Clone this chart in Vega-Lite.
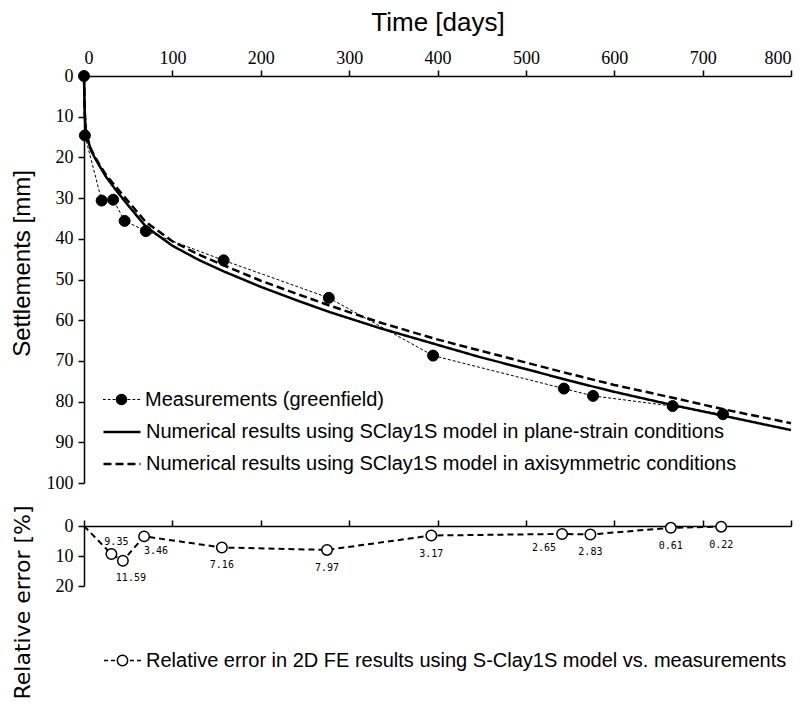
{
  "$schema": "https://vega.github.io/schema/vega-lite/v6.json",
  "padding": {"left": 10, "top": 9, "right": 2, "bottom": 2},
  "background": "white",
  "config": {
    "view": {"stroke": null},
    "axis": {"domainColor": "black", "tickColor": "black", "labelColor": "black", "titleColor": "black", "domainWidth": 1.5, "tickWidth": 1.5, "grid": false, "labelFont": "Liberation Serif", "labelFontSize": 18, "titleFontWeight": "normal"},
    "legend": {"labelFont": "Liberation Sans", "labelFontSize": 20, "labelColor": "black", "labelLimit": 800, "symbolSize": 1369, "labelOffset": 4}
  },
  "resolve": {"scale": {"strokeDash": "independent", "stroke": "independent"}, "legend": {"strokeDash": "independent", "stroke": "independent"}},
  "datasets": {
    "settle": [
      {"series": "Measurements (greenfield)", "day": 0, "s": 0},
      {"series": "Measurements (greenfield)", "day": 1, "s": 14.6},
      {"series": "Measurements (greenfield)", "day": 20, "s": 30.6},
      {"series": "Measurements (greenfield)", "day": 33, "s": 30.4},
      {"series": "Measurements (greenfield)", "day": 46, "s": 35.6},
      {"series": "Measurements (greenfield)", "day": 70, "s": 38.1},
      {"series": "Measurements (greenfield)", "day": 158, "s": 45.3},
      {"series": "Measurements (greenfield)", "day": 277, "s": 54.5},
      {"series": "Measurements (greenfield)", "day": 395, "s": 68.7},
      {"series": "Measurements (greenfield)", "day": 543, "s": 76.8},
      {"series": "Measurements (greenfield)", "day": 576, "s": 78.6},
      {"series": "Measurements (greenfield)", "day": 666, "s": 81.1},
      {"series": "Measurements (greenfield)", "day": 723, "s": 83.1},
      {"series": "Numerical results using SClay1S model in plane-strain conditions", "day": 0, "s": 0},
      {"series": "Numerical results using SClay1S model in plane-strain conditions", "day": 0.5, "s": 6},
      {"series": "Numerical results using SClay1S model in plane-strain conditions", "day": 1, "s": 10},
      {"series": "Numerical results using SClay1S model in plane-strain conditions", "day": 2, "s": 13.3},
      {"series": "Numerical results using SClay1S model in plane-strain conditions", "day": 4, "s": 15.5},
      {"series": "Numerical results using SClay1S model in plane-strain conditions", "day": 8, "s": 18.3},
      {"series": "Numerical results using SClay1S model in plane-strain conditions", "day": 12, "s": 20},
      {"series": "Numerical results using SClay1S model in plane-strain conditions", "day": 17, "s": 21.9},
      {"series": "Numerical results using SClay1S model in plane-strain conditions", "day": 25, "s": 24.8},
      {"series": "Numerical results using SClay1S model in plane-strain conditions", "day": 36, "s": 28},
      {"series": "Numerical results using SClay1S model in plane-strain conditions", "day": 50, "s": 31.8},
      {"series": "Numerical results using SClay1S model in plane-strain conditions", "day": 70, "s": 37},
      {"series": "Numerical results using SClay1S model in plane-strain conditions", "day": 100, "s": 41.7},
      {"series": "Numerical results using SClay1S model in plane-strain conditions", "day": 130, "s": 45.2},
      {"series": "Numerical results using SClay1S model in plane-strain conditions", "day": 158, "s": 48},
      {"series": "Numerical results using SClay1S model in plane-strain conditions", "day": 200, "s": 51.8},
      {"series": "Numerical results using SClay1S model in plane-strain conditions", "day": 243, "s": 55.3},
      {"series": "Numerical results using SClay1S model in plane-strain conditions", "day": 278, "s": 58},
      {"series": "Numerical results using SClay1S model in plane-strain conditions", "day": 334, "s": 61.9},
      {"series": "Numerical results using SClay1S model in plane-strain conditions", "day": 396, "s": 65.8},
      {"series": "Numerical results using SClay1S model in plane-strain conditions", "day": 447, "s": 69},
      {"series": "Numerical results using SClay1S model in plane-strain conditions", "day": 500, "s": 72},
      {"series": "Numerical results using SClay1S model in plane-strain conditions", "day": 550, "s": 74.9},
      {"series": "Numerical results using SClay1S model in plane-strain conditions", "day": 600, "s": 77.6},
      {"series": "Numerical results using SClay1S model in plane-strain conditions", "day": 665, "s": 80.8},
      {"series": "Numerical results using SClay1S model in plane-strain conditions", "day": 724, "s": 83.5},
      {"series": "Numerical results using SClay1S model in plane-strain conditions", "day": 800, "s": 87},
      {"series": "Numerical results using SClay1S model in axisymmetric conditions", "day": 0, "s": 0},
      {"series": "Numerical results using SClay1S model in axisymmetric conditions", "day": 0.5, "s": 5.5},
      {"series": "Numerical results using SClay1S model in axisymmetric conditions", "day": 1, "s": 9.5},
      {"series": "Numerical results using SClay1S model in axisymmetric conditions", "day": 2, "s": 13},
      {"series": "Numerical results using SClay1S model in axisymmetric conditions", "day": 4, "s": 15.3},
      {"series": "Numerical results using SClay1S model in axisymmetric conditions", "day": 8, "s": 18},
      {"series": "Numerical results using SClay1S model in axisymmetric conditions", "day": 12, "s": 19.7},
      {"series": "Numerical results using SClay1S model in axisymmetric conditions", "day": 17, "s": 21.6},
      {"series": "Numerical results using SClay1S model in axisymmetric conditions", "day": 25, "s": 24.3},
      {"series": "Numerical results using SClay1S model in axisymmetric conditions", "day": 36, "s": 27.2},
      {"series": "Numerical results using SClay1S model in axisymmetric conditions", "day": 50, "s": 30.8},
      {"series": "Numerical results using SClay1S model in axisymmetric conditions", "day": 70, "s": 35.9},
      {"series": "Numerical results using SClay1S model in axisymmetric conditions", "day": 100, "s": 40.6},
      {"series": "Numerical results using SClay1S model in axisymmetric conditions", "day": 130, "s": 43.9},
      {"series": "Numerical results using SClay1S model in axisymmetric conditions", "day": 158, "s": 46.5},
      {"series": "Numerical results using SClay1S model in axisymmetric conditions", "day": 200, "s": 50.3},
      {"series": "Numerical results using SClay1S model in axisymmetric conditions", "day": 243, "s": 53.7},
      {"series": "Numerical results using SClay1S model in axisymmetric conditions", "day": 278, "s": 56.4},
      {"series": "Numerical results using SClay1S model in axisymmetric conditions", "day": 334, "s": 60.5},
      {"series": "Numerical results using SClay1S model in axisymmetric conditions", "day": 396, "s": 64.5},
      {"series": "Numerical results using SClay1S model in axisymmetric conditions", "day": 447, "s": 67.4},
      {"series": "Numerical results using SClay1S model in axisymmetric conditions", "day": 500, "s": 70.4},
      {"series": "Numerical results using SClay1S model in axisymmetric conditions", "day": 550, "s": 73.2},
      {"series": "Numerical results using SClay1S model in axisymmetric conditions", "day": 600, "s": 75.9},
      {"series": "Numerical results using SClay1S model in axisymmetric conditions", "day": 665, "s": 79},
      {"series": "Numerical results using SClay1S model in axisymmetric conditions", "day": 724, "s": 81.9},
      {"series": "Numerical results using SClay1S model in axisymmetric conditions", "day": 800, "s": 85.3}
    ],
    "err": [
      {"series": "Relative error in 2D FE results using S-Clay1S model vs. measurements", "day": 0, "e": 0},
      {"series": "Relative error in 2D FE results using S-Clay1S model vs. measurements", "day": 31, "e": 9.35},
      {"series": "Relative error in 2D FE results using S-Clay1S model vs. measurements", "day": 44, "e": 11.59},
      {"series": "Relative error in 2D FE results using S-Clay1S model vs. measurements", "day": 68, "e": 3.46},
      {"series": "Relative error in 2D FE results using S-Clay1S model vs. measurements", "day": 156, "e": 7.16},
      {"series": "Relative error in 2D FE results using S-Clay1S model vs. measurements", "day": 275, "e": 7.97},
      {"series": "Relative error in 2D FE results using S-Clay1S model vs. measurements", "day": 393, "e": 3.17},
      {"series": "Relative error in 2D FE results using S-Clay1S model vs. measurements", "day": 541, "e": 2.65},
      {"series": "Relative error in 2D FE results using S-Clay1S model vs. measurements", "day": 573, "e": 2.83},
      {"series": "Relative error in 2D FE results using S-Clay1S model vs. measurements", "day": 664, "e": 0.61},
      {"series": "Relative error in 2D FE results using S-Clay1S model vs. measurements", "day": 721, "e": 0.22}
    ]
  },
  "vconcat": [
    {
      "width": 707,
      "height": 407,
      "data": {"name": "settle"},
      "encoding": {
        "x": {"field": "day", "type": "quantitative", "scale": {"domain": [0, 800], "nice": false, "zero": false},
          "axis": {"orient": "top", "values": [0, 100, 200, 300, 400, 500, 600, 700, 800], "tickSize": 6, "labelPadding": 3, "title": "Time [days]", "titleFont": "Liberation Sans", "titleFontSize": 26, "titlePadding": 14}},
        "y": {"field": "s", "type": "quantitative", "scale": {"domain": [0, 100], "reverse": true, "nice": false},
          "axis": {"orient": "left", "values": [0, 10, 20, 30, 40, 50, 60, 70, 80, 90, 100], "tickSize": 6, "labelPadding": 5, "title": "Settlements [mm]", "titleFont": "Liberation Sans", "titleFontSize": 24, "titlePadding": 10, "titleY": 187, "minExtent": 40, "maxExtent": 40}}
      },
      "layer": [
        {
          "transform": [{"filter": "datum.series === 'Measurements (greenfield)'"}],
          "mark": {"type": "line", "color": "black", "strokeWidth": 1, "strokeDash": [3, 2]}
        },
        {
          "transform": [{"filter": "datum.series !== 'Measurements (greenfield)'"}],
          "mark": {"type": "line", "color": "black", "strokeWidth": 2.5},
          "encoding": {
            "strokeDash": {"field": "series", "type": "nominal",
              "scale": {"domain": ["Numerical results using SClay1S model in plane-strain conditions", "Numerical results using SClay1S model in axisymmetric conditions"], "range": [[1, 0], [8, 4]]},
              "legend": {"title": null, "orient": "none", "legendX": 18, "legendY": 336, "symbolType": "stroke", "symbolStrokeWidth": 2.5, "symbolStrokeColor": "black", "rowPadding": 2}}
          }
        },
        {
          "transform": [{"filter": "datum.series === 'Measurements (greenfield)'"}],
          "mark": {"type": "point", "filled": true, "fill": "black", "strokeWidth": 1, "size": 121, "opacity": 1},
          "encoding": {
            "stroke": {"field": "series", "type": "nominal", "scale": {"domain": ["Measurements (greenfield)"], "range": ["black"]},
              "legend": {"title": null, "orient": "none", "legendX": 18, "legendY": 304, "symbolType": "M-1,0H-0.85M-0.74,0H-0.59M-0.48,0H-0.33M0.33,0H0.48M0.59,0H0.74M0.85,0H1M-0.28,0A0.28,0.28,0,1,1,0.28,0A0.28,0.28,0,1,1,-0.28,0Z", "symbolStrokeWidth": 1.2, "symbolFillColor": "black"}}
          }
        }
      ]
    },
    {
      "width": 707,
      "height": 60,
      "data": {"name": "err"},
      "encoding": {
        "x": {"field": "day", "type": "quantitative", "scale": {"domain": [0, 800], "nice": false, "zero": false},
          "axis": {"orient": "top", "values": [0, 100, 200, 300, 400, 500, 600, 700, 800], "tickSize": 6, "labels": false, "title": null}},
        "y": {"field": "e", "type": "quantitative", "scale": {"domain": [0, 20], "reverse": true, "nice": false},
          "axis": {"orient": "left", "values": [0, 10, 20], "tickSize": 6, "labelPadding": 5, "title": "Relative error [%]", "titleFont": "DejaVu Sans", "titleFontSize": 22, "titlePadding": 10, "titleY": 76, "minExtent": 40, "maxExtent": 40}}
      },
      "layer": [
        {
          "mark": {"type": "line", "color": "black", "strokeWidth": 2, "strokeDash": [6, 4]}
        },
        {
          "transform": [{"filter": "datum.day > 0"}],
          "mark": {"type": "point", "filled": true, "fill": "white", "strokeWidth": 1.5, "size": 110, "opacity": 1},
          "encoding": {
            "stroke": {"field": "series", "type": "nominal", "scale": {"domain": ["Relative error in 2D FE results using S-Clay1S model vs. measurements"], "range": ["black"]},
              "legend": {"title": null, "orient": "none", "legendX": 19, "legendY": 115, "symbolType": "M-1,0H-0.78M-0.62,0H-0.4M0.4,0H0.62M0.78,0H1M-0.28,0A0.28,0.28,0,1,1,0.28,0A0.28,0.28,0,1,1,-0.28,0Z", "symbolStrokeWidth": 1.5, "symbolFillColor": "white"}}
          }
        },
        {
          "transform": [{"filter": "datum.day > 0 && datum.e !== 9.35 && datum.e !== 11.59 && datum.e !== 3.46 && datum.e !== 2.65"}],
          "mark": {"type": "text", "font": "DejaVu Sans Mono", "fontSize": 10, "color": "black", "dy": 18},
          "encoding": {"text": {"field": "e", "type": "quantitative", "format": ".2f"}}
        },
        {
          "transform": [{"filter": "datum.e === 9.35"}],
          "mark": {"type": "text", "font": "DejaVu Sans Mono", "fontSize": 10, "color": "black", "dx": 5, "dy": -12},
          "encoding": {"text": {"field": "e", "type": "quantitative", "format": ".2f"}}
        },
        {
          "transform": [{"filter": "datum.e === 11.59"}],
          "mark": {"type": "text", "font": "DejaVu Sans Mono", "fontSize": 10, "color": "black", "dx": 8, "dy": 17},
          "encoding": {"text": {"field": "e", "type": "quantitative", "format": ".2f"}}
        },
        {
          "transform": [{"filter": "datum.e === 3.46"}],
          "mark": {"type": "text", "font": "DejaVu Sans Mono", "fontSize": 10, "color": "black", "dx": 12, "dy": 15},
          "encoding": {"text": {"field": "e", "type": "quantitative", "format": ".2f"}}
        },
        {
          "transform": [{"filter": "datum.e === 2.65"}],
          "mark": {"type": "text", "font": "DejaVu Sans Mono", "fontSize": 10, "color": "black", "dx": -18, "dy": 14},
          "encoding": {"text": {"field": "e", "type": "quantitative", "format": ".2f"}}
        }
      ]
    }
  ],
  "spacing": 43,
  "bounds": "flush"
}
